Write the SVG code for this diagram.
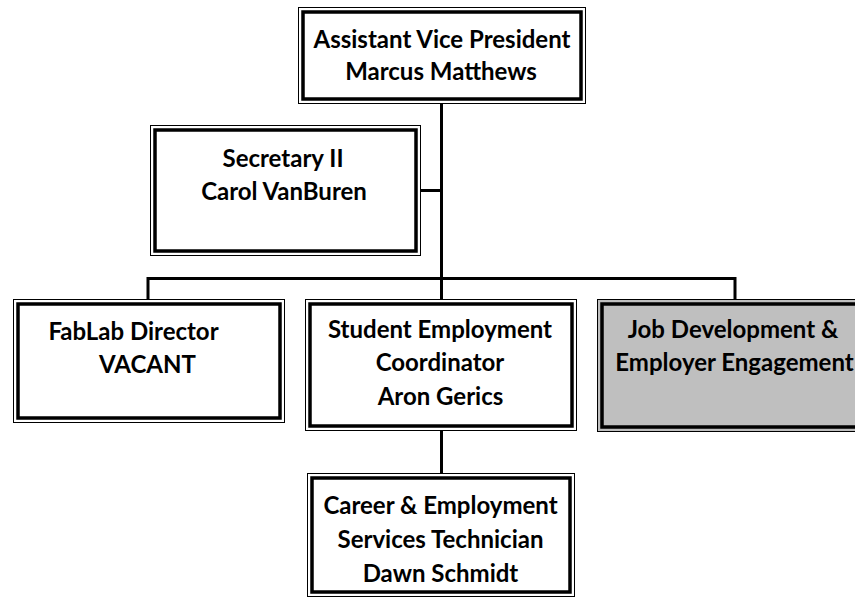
<svg xmlns="http://www.w3.org/2000/svg" width="855" height="600" viewBox="0 0 855 600">
<style>
.o{fill:#fff;stroke:#000;stroke-width:1}
.g{fill:#bfbfbf}
.i{fill:none;stroke:#000;stroke-width:3.5}
.t{font-family:Lato,"Liberation Sans",sans-serif;font-weight:bold;font-size:24px;fill:#000;text-anchor:middle}
.c{fill:none;stroke:#000;stroke-width:3}
</style>
<rect width="855" height="600" fill="#fff"/>
<g id="connectors">
<path class="c" d="M441.5 104V299M421 190.5H441.5M148 278.5H735M148 277V299M735 277V299M441.5 431V473"/>
</g>
<g id="avp">
<rect class="o" x="298.5" y="7.5" width="287" height="96"/>
<rect class="i" x="303" y="12" width="278" height="87"/>
<text class="t" x="442" y="48">Assistant Vice President</text>
<text class="t" x="441" y="80">Marcus Matthews</text>
</g>
<g id="secretary">
<rect class="o" x="150.5" y="125.5" width="270" height="130"/>
<rect class="i" x="155" y="130" width="261" height="121"/>
<text class="t" x="283" y="167">Secretary II</text>
<text class="t" x="284" y="200">Carol VanBuren</text>
</g>
<g id="fablab">
<rect class="o" x="13.5" y="299.5" width="271" height="123"/>
<rect class="i" x="18" y="304" width="262" height="114"/>
<text class="t" x="133.5" y="340">FabLab Director</text>
<text class="t" x="147.5" y="373">VACANT</text>
</g>
<g id="student">
<rect class="o" x="305.5" y="299.5" width="271" height="131"/>
<rect class="i" x="310" y="304" width="262" height="122"/>
<text class="t" x="440" y="338">Student Employment</text>
<text class="t" x="440" y="371">Coordinator</text>
<text class="t" x="440.5" y="405">Aron Gerics</text>
</g>
<g id="jobdev">
<rect class="o g" x="597.5" y="299.5" width="272" height="132"/>
<rect class="i" x="602" y="304" width="263" height="123"/>
<text class="t" x="733" y="338">Job Development &amp;</text>
<text class="t" x="734.5" y="371">Employer Engagement</text>
</g>
<g id="career">
<rect class="o" x="307.5" y="473.5" width="267" height="123"/>
<rect class="i" x="312" y="478" width="258" height="114"/>
<text class="t" x="440.5" y="514">Career &amp; Employment</text>
<text class="t" x="440.5" y="548">Services Technician</text>
<text class="t" x="440.5" y="582">Dawn Schmidt</text>
</g>
</svg>
